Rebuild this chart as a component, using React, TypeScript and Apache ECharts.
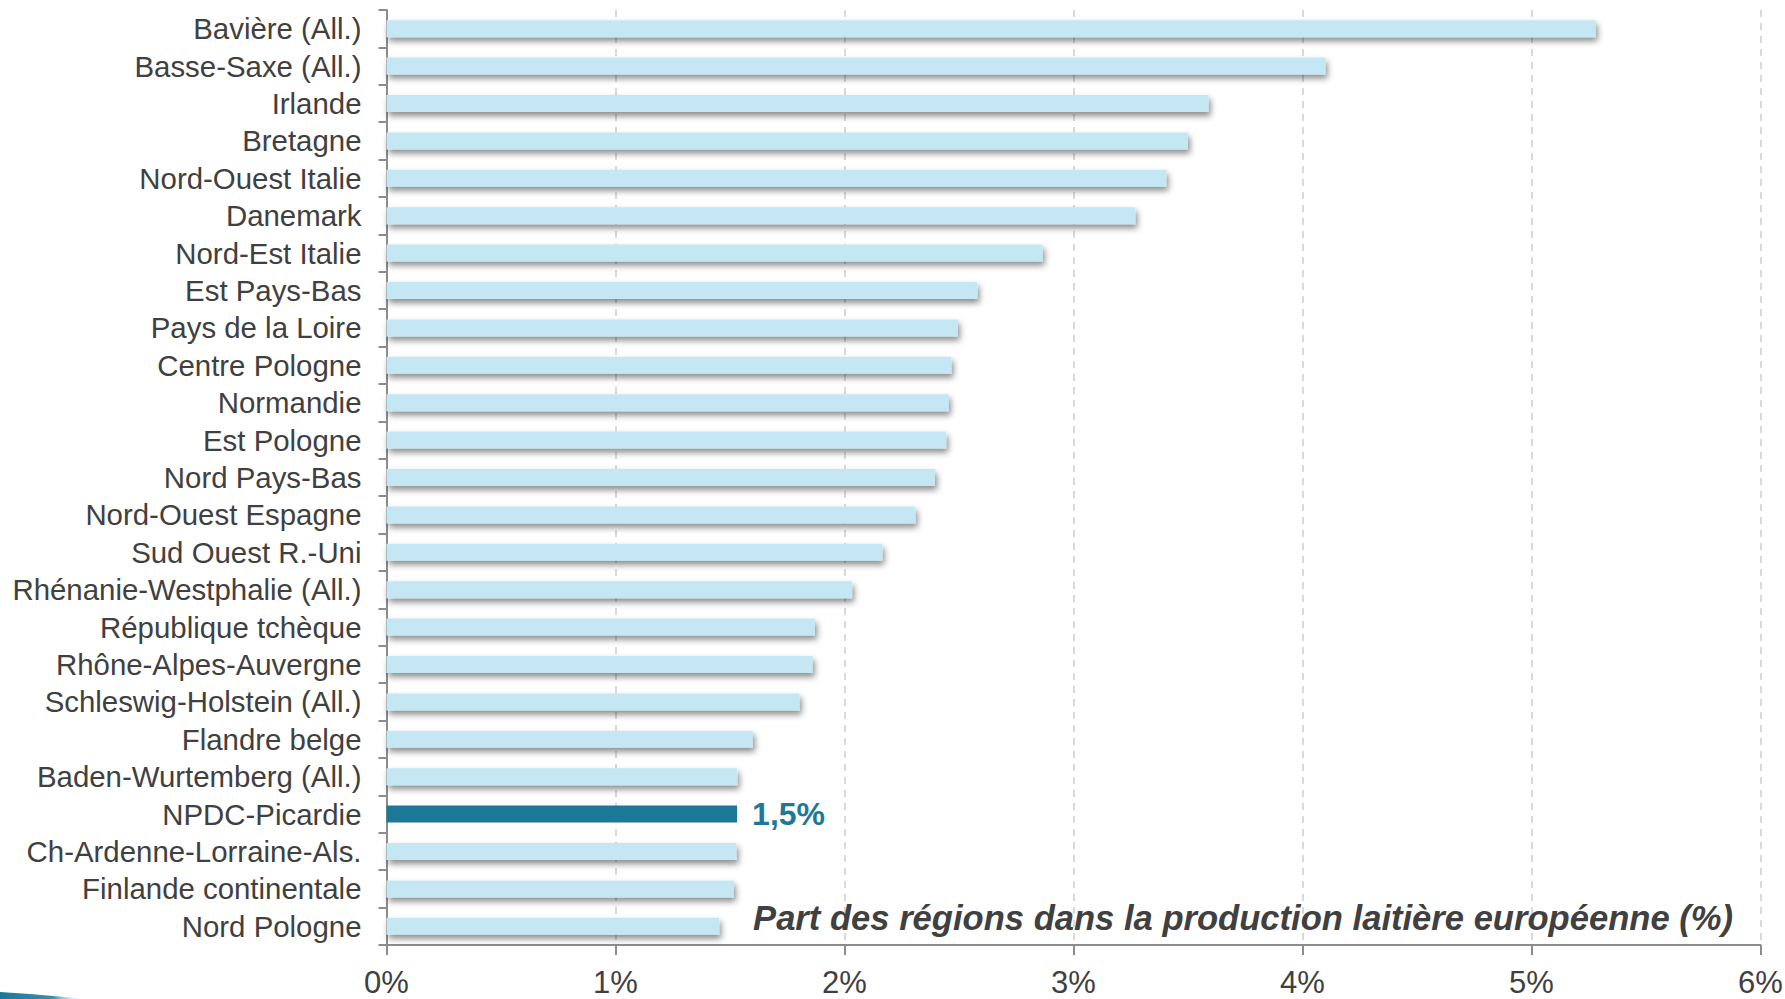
import React, { useEffect, useRef } from "react";
import * as echarts from "echarts";

const categories: string[] = [
  "Bavière (All.)",
  "Basse-Saxe (All.)",
  "Irlande",
  "Bretagne",
  "Nord-Ouest Italie",
  "Danemark",
  "Nord-Est Italie",
  "Est Pays-Bas",
  "Pays de la Loire",
  "Centre Pologne",
  "Normandie",
  "Est Pologne",
  "Nord Pays-Bas",
  "Nord-Ouest Espagne",
  "Sud Ouest R.-Uni",
  "Rhénanie-Westphalie (All.)",
  "République tchèque",
  "Rhône-Alpes-Auvergne",
  "Schleswig-Holstein (All.)",
  "Flandre belge",
  "Baden-Wurtemberg (All.)",
  "NPDC-Picardie",
  "Ch-Ardenne-Lorraine-Als.",
  "Finlande continentale",
  "Nord Pologne",
];

const values: number[] = [
  5.28, 4.1, 3.59, 3.5, 3.405, 3.27, 2.865, 2.58, 2.495, 2.467, 2.455, 2.444,
  2.395, 2.31, 2.165, 2.033, 1.871, 1.861, 1.804, 1.6, 1.532, 1.531, 1.528,
  1.516, 1.453,
];

const highlightCategory = "NPDC-Picardie";
const highlightLabel = "1,5%";
const xTicks: number[] = [0, 1, 2, 3, 4, 5, 6];
const chartTitle = "Part des régions dans la production laitière européenne (%)";

const FONT = "'Liberation Sans', Arial, Helvetica, sans-serif";
const LIGHT = "#c5e7f3";
const DARK = "#1d7899";
const TEXT = "#404040";
const AXIS = "#8c8c8c";

export default function App() {
  const ref = useRef<HTMLDivElement | null>(null);

  useEffect(() => {
    if (!ref.current) return;
    const chart = echarts.init(ref.current, undefined, { renderer: "svg" });

    const data = values.map((v, i) => {
      const isHi = categories[i] === highlightCategory;
      return {
        value: v,
        itemStyle: {
          color: isHi ? DARK : LIGHT,
          shadowColor: isHi ? "rgba(0,0,0,0.0)" : "rgba(0,0,0,0.45)",
          shadowBlur: 6,
          shadowOffsetX: 2,
          shadowOffsetY: 4,
        },
        label: isHi
          ? {
              show: true,
              position: "right",
              distance: 15,
              formatter: highlightLabel,
              color: DARK,
              fontWeight: "bold",
              fontSize: 32,
              fontFamily: FONT,
            }
          : { show: false },
      };
    });

    chart.setOption({
      animation: false,
      backgroundColor: "#ffffff",
      title: {
        text: chartTitle,
        right: 52,
        top: 900,
        padding: 0,
        textStyle: {
          fontFamily: FONT,
          fontSize: 34.6,
          fontWeight: "bold",
          fontStyle: "italic",
          color: TEXT,
        },
      },
      grid: {
        left: 386.5,
        right: 24.5,
        top: 10,
        bottom: 54,
        containLabel: false,
        outerBoundsMode: "none",
      },
      xAxis: {
        type: "value",
        min: xTicks[0],
        max: xTicks[xTicks.length - 1],
        interval: 1,
        axisLine: { show: true, lineStyle: { color: AXIS, width: 2 } },
        axisTick: { show: true, length: 10, lineStyle: { color: AXIS, width: 2 } },
        axisLabel: {
          formatter: (v: number) => `${v}%`,
          color: TEXT,
          fontSize: 31,
          fontFamily: FONT,
          margin: 22,
        },
        splitLine: {
          show: true,
          lineStyle: { color: "#d9d9d9", width: 2, type: [7, 6] },
        },
      },
      yAxis: {
        type: "category",
        data: categories,
        inverse: true,
        axisLine: { show: true, lineStyle: { color: AXIS, width: 2 } },
        axisTick: { show: true, length: 8, lineStyle: { color: AXIS, width: 2 } },
        axisLabel: {
          color: TEXT,
          fontSize: 29.4,
          fontFamily: FONT,
          margin: 25,
          interval: 0,
        },
        splitLine: { show: false },
      },
      series: [
        {
          type: "bar",
          data,
          barWidth: 17,
        },
      ],
      graphic: [
        {
          type: "polygon",
          shape: {
            points: [
              [0, 992],
              [30, 994],
              [88, 999],
              [0, 999],
            ],
          },
          style: {
            fill: new echarts.graphic.LinearGradient(0, 0, 1, 0, [
              { offset: 0, color: "#1c7898" },
              { offset: 0.6, color: "#3d8fac" },
              { offset: 1, color: "rgba(255,255,255,0)" },
            ]),
          },
          silent: true,
        },
      ],
    });

    return () => chart.dispose();
  }, []);

  return (
    <div
      ref={ref}
      style={{ position: "fixed", left: 0, top: 0, width: 1785, height: 999 }}
    />
  );
}
